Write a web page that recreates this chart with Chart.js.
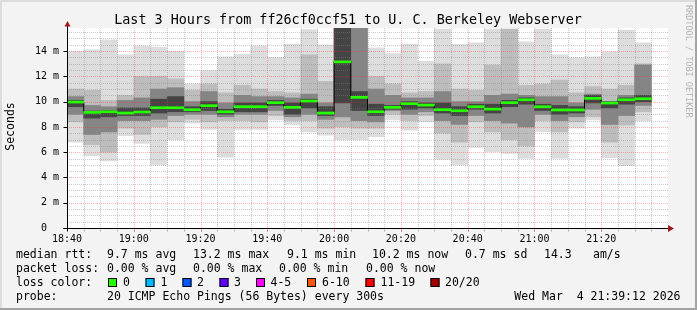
<!DOCTYPE html>
<html>
<head>
<meta charset="utf-8">
<script src="https://cdn.jsdelivr.net/npm/chart.js@4.4.1/dist/chart.umd.min.js"></script>
<style>
  html, body { margin:0; padding:0; background:#f3f3f3; }
  canvas { display:block; }
</style>
</head>
<body>
<canvas id="rtt" width="697" height="310"></canvas>
<script>
// one entry per 5 minute step, starting 18:40 (values in ms)
const rttMax    = [14.0,14.1,14.9,13.7,14.4,14.3,14.0,11.4,12.45,13.55,13.75,14.4,13.5,14.55,15.7,14.5,15.8,15.8,14.27,13.8,14.55,13.2,15.74,14.53,14.66,15.74,15.74,14.74,15.74,13.7,13.48,13.55,13.95,15.66,14.66];
const rttMin    = [6.8,5.7,5.3,7.3,6.7,5.0,7.0,8.3,7.8,5.6,7.8,7.8,8.55,8.15,7.6,7.35,7.0,7.0,7.23,8.55,7.75,8.4,5.43,5.0,6.38,6.04,5.9,5.5,7.62,5.5,7.9,8.55,5.57,4.94,8.47];
const rttMedian = [9.97,9.15,9.2,9.1,9.18,9.52,9.52,9.36,9.68,9.2,9.6,9.6,9.92,9.55,10.05,9.1,13.15,10.34,9.2,9.55,9.84,9.73,9.36,9.28,9.6,9.41,9.92,10.15,9.6,9.34,9.34,10.26,9.89,10.15,10.23];
// smoke bands, outer to inner
const smoke2Hi = [11.0,10.9,10.1,10.5,12.0,12.0,11.8,10.9,11.4,10.7,11.3,11.0,10.8,10.7,13.7,11.6,15.8,15.8,12.0,11.4,10.7,10.8,13.0,11.0,10.9,12.9,15.74,11.3,11.4,11.7,10.7,11.2,11.0,11.3,13.0];
const smoke2Lo = [8.4,6.6,6.0,7.9,7.4,8.0,8.4,8.6,8.4,8.5,8.5,8.4,8.9,8.5,8.5,7.9,8.0,7.9,7.9,9.0,8.5,8.9,7.5,6.8,8.4,7.6,7.0,6.5,8.5,7.6,8.4,8.8,6.8,8.15,9.2];
const smoke3Hi = [10.4,9.7,9.6,10.1,10.3,11.0,11.1,10.0,10.8,9.9,10.5,10.4,10.4,10.3,10.6,9.9,15.8,15.8,11.0,10.5,10.3,10.3,10.8,10.0,10.0,10.5,10.6,10.5,10.4,10.4,9.9,10.6,10.0,10.5,12.9];
const smoke3Lo = [9.0,7.4,7.6,8.5,8.5,8.6,8.9,9.0,9.0,8.8,9.0,9.0,9.3,8.8,9.0,8.6,8.8,8.5,8.4,9.3,9.0,9.2,8.5,8.2,8.9,8.5,8.3,8.0,9.0,8.5,8.8,9.4,8.2,8.9,9.7];
const smoke4Hi = [10.1,9.25,9.3,9.5,9.5,10.2,10.4,9.6,10.0,9.4,9.9,9.9,10.1,9.9,10.2,9.6,15.8,10.8,9.8,9.7,10.0,9.9,9.9,9.6,9.8,9.8,10.1,10.3,9.8,9.7,9.6,10.5,10.0,10.3,10.5];
const smoke4Lo = [9.6,8.7,8.8,8.9,8.9,9.1,9.2,9.2,9.3,9.0,9.2,9.2,9.7,9.0,9.5,8.9,9.9,9.3,8.9,9.4,9.4,9.5,9.1,8.9,9.4,9.1,9.6,9.8,9.3,9.0,9.1,9.9,9.5,9.8,10.0];

const stepMinutes = 5;
const spanMinutes = 180;
const yMax = 15.83;
const yTicks = [0, 2, 4, 6, 8, 10, 12, 14];
const xTickLabels = ['18:40','19:00','19:20','19:40','20:00','20:20','20:40','21:00','21:20'];
const lossBuckets = ['0','1','2','3','4-5','6-10','11-19','20/20'];
const lossColors  = ['#26ff00','#00b8ff','#0059ff','#5e00ff','#ff00ff','#ff5500','#ff0000','#a10000'];

const FONT = '"DejaVu Sans Mono", monospace';

function band(lo, hi){
  return lo.map((v, i) => ({ x: i*stepMinutes + stepMinutes/2, y: [v, hi[i]] }));
}
function smokeSet(lo, hi, color, order){
  return { type:'bar', data: band(lo, hi), backgroundColor: color, borderWidth: 0,
           grouped:false, barPercentage:1, categoryPercentage:1, order };
}

const rrdLook = {
  id: 'rrdLook',
  beforeDraw(chart){
    const c = chart.ctx, a = chart.chartArea;
    c.save();
    c.fillStyle = '#f3f3f3'; c.fillRect(0, 0, chart.width, chart.height);
    c.fillStyle = '#dcdcdc'; c.fillRect(0, 0, chart.width, 2); c.fillRect(0, 0, 2, chart.height);
    c.fillStyle = '#a3a3a3'; c.fillRect(0, chart.height-2, chart.width, 2); c.fillRect(chart.width-2, 0, 2, chart.height);
    c.fillStyle = '#ffffff'; c.fillRect(a.left, a.top, a.right - a.left, a.bottom - a.top);
    c.restore();
  },
  afterDatasetDraw(chart, args){
    if (args.index !== 3) return;
    const c = chart.ctx, a = chart.chartArea, xs = chart.scales.x, ys = chart.scales.y;
    c.save();
    c.lineWidth = 1;
    c.setLineDash([1, 1]);
    for (let m = stepMinutes; m < spanMinutes; m += stepMinutes){
      const px = Math.round(xs.getPixelForValue(m)) + 0.5;
      c.strokeStyle = m % 20 === 0 ? 'rgba(255,40,40,0.35)' : 'rgba(130,130,130,0.42)';
      c.beginPath(); c.moveTo(px, a.top); c.lineTo(px, a.bottom); c.stroke();
    }
    for (let v = 0.5; v < yMax; v += 0.5){
      const py = Math.round(ys.getPixelForValue(v)) + 0.5;
      c.strokeStyle = v % 2 === 0 ? 'rgba(255,40,40,0.35)' : 'rgba(130,130,130,0.42)';
      c.beginPath(); c.moveTo(a.left, py); c.lineTo(a.right, py); c.stroke();
    }
    c.restore();
  },
  afterDraw(chart){
    const c = chart.ctx, a = chart.chartArea, xs = chart.scales.x, ys = chart.scales.y;
    c.save();
    // axes
    c.strokeStyle = '#000'; c.lineWidth = 1;
    const ax = Math.round(a.left) + 0.5, ay = Math.round(a.bottom) + 0.5;
    c.beginPath(); c.moveTo(ax, ay + 3); c.lineTo(ax, a.top - 6); c.stroke();
    c.beginPath(); c.moveTo(ax - 4, ay); c.lineTo(a.right + 2, ay); c.stroke();
    c.fillStyle = '#a01818';
    c.beginPath(); c.moveTo(ax - 3, a.top - 1.5); c.lineTo(ax + 3, a.top - 1.5); c.lineTo(ax, a.top - 7); c.closePath(); c.fill();
    c.beginPath(); c.moveTo(a.right, ay - 3.5); c.lineTo(a.right, ay + 3.5); c.lineTo(a.right + 6, ay); c.closePath(); c.fill();
    // x ticks
    for (let m = stepMinutes; m < spanMinutes; m += stepMinutes){
      const px = Math.round(xs.getPixelForValue(m)) + 0.5;
      c.strokeStyle = m % 20 === 0 ? '#e06060' : '#b0b0b0';
      c.beginPath(); c.moveTo(px, ay + 1); c.lineTo(px, ay + 3); c.stroke();
    }
    // y ticks & labels
    c.fillStyle = '#000'; c.strokeStyle = '#000';
    c.font = '10px ' + FONT; c.textBaseline = 'middle';
    yTicks.forEach(v => {
      const py = ys.getPixelForValue(v);
      c.beginPath(); c.moveTo(ax - 4, Math.round(py) + 0.5); c.lineTo(ax, Math.round(py) + 0.5); c.stroke();
      c.textAlign = 'right'; c.fillText(String(v), 47, py);
      if (v !== 0){ c.textAlign = 'left'; c.fillText('m', 53, py); }
    });
    // x labels
    c.textAlign = 'center'; c.textBaseline = 'alphabetic';
    xTickLabels.forEach((t, j) => c.fillText(t, xs.getPixelForValue(j*20), 241.5));
    // title
    c.font = '13.4px ' + FONT;
    c.fillText('Last 3 Hours from ff26cf0ccf51 to U. C. Berkeley Webserver', 348, 24);
    // y title
    c.font = '11.5px ' + FONT;
    c.save(); c.translate(11, 126.5); c.rotate(-Math.PI/2);
    c.textBaseline = 'middle'; c.fillText('Seconds', 0, 0); c.restore();
    // watermark
    c.save(); c.translate(688.5, 5); c.rotate(Math.PI/2);
    c.font = '8.5px ' + FONT; c.fillStyle = '#b4b4b4'; c.textAlign = 'left'; c.textBaseline = 'middle';
    c.fillText('RRDTOOL / TOBI OETIKER', 0, 0); c.restore();
    // legend
    c.textAlign = 'left'; c.textBaseline = 'alphabetic'; c.fillStyle = '#000';
    const rows = [
      [258, [[16,'median rtt:'],[107,'9.7 ms avg'],[193,'13.2 ms max'],[287,'9.1 ms min'],[372,'10.2 ms now'],[465,'0.7 ms sd'],[544,'14.3'],[593,'am/s']]],
      [272, [[16,'packet loss:'],[107,'0.00 % avg'],[193,'0.00 % max'],[279,'0.00 % min'],[366,'0.00 % now']]],
      [286, [[16,'loss color:']]],
      [299.5, [[16,'probe:'],[107,'20 ICMP Echo Pings (56 Bytes) every 300s']]]
    ];
    rows.forEach(([y, segs]) => segs.forEach(([x, s]) => c.fillText(s, x, y)));
    const boxX = [108,145.5,182.5,219.5,256,307,365.5,430.5];
    const labX = [123,160.5,197,234,270.5,322,380.5,445];
    lossBuckets.forEach((b, i) => {
      c.fillStyle = lossColors[i]; c.fillRect(boxX[i], 278, 9, 9);
      c.strokeStyle = '#000'; c.strokeRect(boxX[i] + 0.5, 278.5, 8, 8);
      c.fillStyle = '#000'; c.fillText(b, labX[i], 286);
    });
    c.textAlign = 'right';
    c.fillText('Wed Mar  4 21:39:12 2026', 680.5, 299.5);
    c.restore();
  }
};

new Chart(document.getElementById('rtt'), {
  type: 'bar',
  data: {
    datasets: [
      smokeSet(rttMin, rttMax, '#dddddd', 6),
      smokeSet(smoke2Lo, smoke2Hi, '#bdbdbd', 5),
      smokeSet(smoke3Lo, smoke3Hi, '#858585', 4),
      smokeSet(smoke4Lo, smoke4Hi, '#444444', 3),
      { type:'line', data: rttMedian.map((v, i) => ({ x: i*stepMinutes + stepMinutes/2, y: v })),
        borderColor:'#000', borderWidth:1, stepped:'middle', pointRadius:0, order:1 },
      { type:'bar', data: rttMedian.map((v, i) => ({ x: i*stepMinutes + stepMinutes/2, y: [v - 0.08, v + 0.08] })),
        backgroundColor:'#26ff00', borderWidth:0, grouped:false, barPercentage:1, categoryPercentage:1, order:0 }
    ]
  },
  options: {
    responsive:false,
    animation:false,
    events:[],
    layout:{ padding:{ left:67, right:29, top:28, bottom:82 } },
    plugins:{ legend:{display:false}, tooltip:{enabled:false} },
    scales:{
      x:{ type:'linear', min:0, max:spanMinutes, offset:false, display:false },
      y:{ min:0, max:yMax, display:false }
    }
  },
  plugins:[rrdLook]
});
</script>
</body>
</html>
